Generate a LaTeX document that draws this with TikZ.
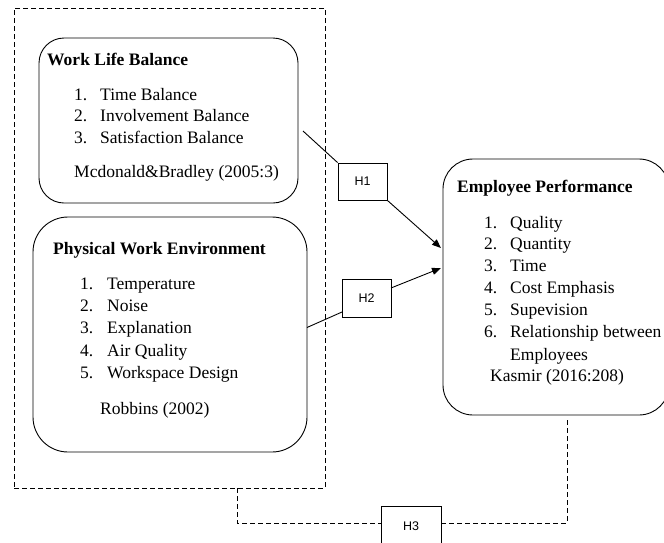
\documentclass[tikz,border=0pt]{standalone}
\usepackage{fontspec}
\setmainfont{Liberation Serif}
\newfontfamily\hfont{Liberation Sans}
\usetikzlibrary{arrows.meta}
\begin{document}
\begin{tikzpicture}[x=1pt,y=-1pt,
  rbox/.style={draw, line width=0.9pt, rounded corners=#1, inner sep=0pt},
  hbox/.style={draw, line width=0.9pt, inner sep=0pt, font=\hfont\fontsize{12.5}{14}\selectfont},
  txt/.style={anchor=base west, inner sep=0pt, font=\fontsize{17.5}{21}\selectfont},
  head/.style={txt, font=\fontsize{17.5}{21}\selectfont\bfseries},
  link/.style={line width=0.9pt},
  arr/.style={link, -{Triangle[length=9pt,width=7pt]}},
  dashline/.style={line width=0.8pt, dash pattern=on 5pt off 3pt}
]
\useasboundingbox (0,0) rectangle (664,542);

% grouped independent variables
\node[dashline, draw, minimum width=311pt, minimum height=480pt, inner sep=0pt] (group) at (169.5,248) {};

% Work Life Balance
\node[rbox=25pt, minimum width=259pt, minimum height=165pt] (wlb) at (168.5,120.5) {};
\node[head] (wlbT) at (47,65) {Work Life Balance};
\node[txt] (w1n) at (74,100) {1.};
\node[txt] (w1) at (100,100) {Time Balance};
\node[txt] (w2n) at (74,121.5) {2.};
\node[txt] (w2) at (100,121.5) {Involvement Balance};
\node[txt] (w3n) at (74,143) {3.};
\node[txt] (w3) at (100,143) {Satisfaction Balance};
\node[txt] (wsrc) at (74,177) {Mcdonald\&Bradley (2005:3)};

% Physical Work Environment
\node[rbox=35pt, minimum width=274pt, minimum height=235pt] (pwe) at (170,334.5) {};
\node[head] (pweT) at (53,254) {Physical Work Environment};
\node[txt] (p1n) at (80,289) {1.};
\node[txt] (p1) at (107,289) {Temperature};
\node[txt] (p2n) at (80,311) {2.};
\node[txt] (p2) at (107,311) {Noise};
\node[txt] (p3n) at (80,333.5) {3.};
\node[txt] (p3) at (107,333.5) {Explanation};
\node[txt] (p4n) at (80,356) {4.};
\node[txt] (p4) at (107,356) {Air Quality};
\node[txt] (p5n) at (80,378) {5.};
\node[txt] (p5) at (107,378) {Workspace Design};
\node[txt] (psrc) at (100,414) {Robbins (2002)};

% Employee Performance
\node[rbox=30pt, minimum width=226pt, minimum height=256pt] (ep) at (556,287) {};
\node[head] (epT) at (457,192) {Employee Performance};
\node[txt] (e1n) at (484,228) {1.};
\node[txt] (e1) at (510,228) {Quality};
\node[txt] (e2n) at (484,249.5) {2.};
\node[txt] (e2) at (510,249.5) {Quantity};
\node[txt] (e3n) at (484,271) {3.};
\node[txt] (e3) at (510,271) {Time};
\node[txt] (e4n) at (484,293) {4.};
\node[txt] (e4) at (510,293) {Cost Emphasis};
\node[txt] (e5n) at (484,315) {5.};
\node[txt] (e5) at (510,315) {Supevision};
\node[txt] (e6n) at (484,337) {6.};
\node[txt] (e6) at (510,337) {Relationship between};
\node[txt] (e6b) at (510,360) {Employees};
\node[txt] (esrc) at (490,381) {Kasmir (2016:208)};

% hypothesis labels
\node[hbox, minimum width=49pt, minimum height=37pt] (h1) at (362.5,181.5) {H1};
\node[hbox, minimum width=49pt, minimum height=38pt] (h2) at (366.5,298) {H2};
\node[hbox, minimum width=60pt, minimum height=40pt] (h3) at (411,526) {H3};

% connector end points
\coordinate (s1) at (303,131);
\coordinate (t1) at (441,248);
\coordinate (s2) at (307,327.5);
\coordinate (m2) at (342,312);
\coordinate (o2) at (391,288);
\coordinate (t2) at (441,268);
\coordinate (g3) at (237,523);
\coordinate (k3) at (567,523);

% H1 and H2 paths
\draw[link] (s1) -- (h1.north west);
\draw[arr] (h1.south east) -- (t1);
\draw[link] (s2) -- (m2);
\draw[arr] (o2) -- (t2);

% H3 path
\draw[dashline] (group.south -| g3) -- (g3) -- (g3 -| h3.west);
\draw[dashline] (k3 -| h3.east) -- (k3) -- ([yshift=-3pt]k3 |- ep.south);
\end{tikzpicture}
\end{document}
